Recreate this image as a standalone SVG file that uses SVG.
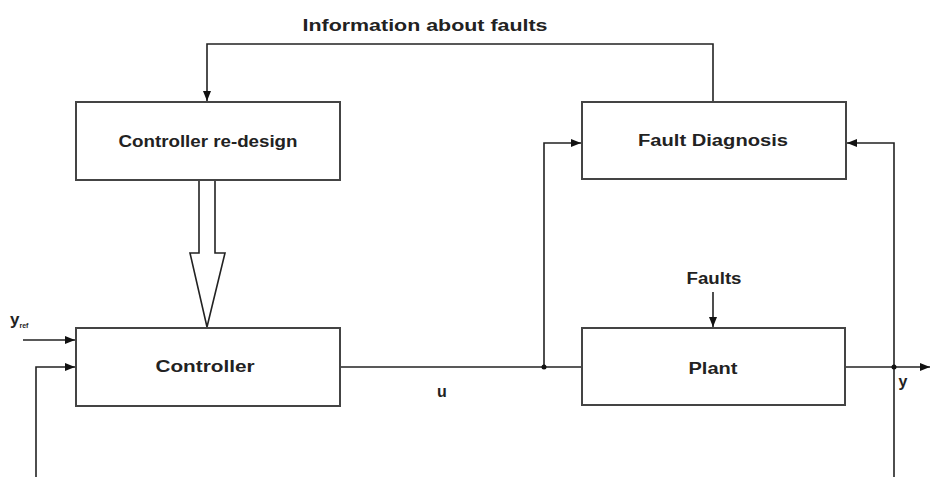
<svg xmlns="http://www.w3.org/2000/svg" width="931" height="477" viewBox="0 0 931 477">
<style>
.box{fill:#fff;stroke:#444;stroke-width:2}
.ln{fill:none;stroke:#222;stroke-width:1.6}
.t{font-family:"Liberation Sans",Arial,sans-serif;font-size:16px;fill:#222;font-weight:bold}
</style>
<defs>
<marker id="ah" viewBox="0 0 10 10" refX="10" refY="5" markerWidth="10" markerHeight="10" markerUnits="userSpaceOnUse" orient="auto">
<path d="M0,1 L10,5 L0,9 Z" fill="#111"/>
</marker>
</defs>
<rect width="931" height="477" fill="#fff"/>
<g id="connectors">
<polyline class="ln" points="713,102 713,44 207,44 207,101" marker-end="url(#ah)"/>
<line class="ln" x1="23" y1="340" x2="75" y2="340" marker-end="url(#ah)"/>
<polyline class="ln" points="36,477 36,367 75,367" marker-end="url(#ah)"/>
<line class="ln" x1="340" y1="367" x2="582" y2="367"/>
<polyline class="ln" points="544,367 544,143 581,143" marker-end="url(#ah)"/>
<line class="ln" x1="713" y1="292" x2="713" y2="327" marker-end="url(#ah)"/>
<line class="ln" x1="845" y1="367" x2="930" y2="367" marker-end="url(#ah)"/>
<polyline class="ln" points="894,477 894,143 847,143" marker-end="url(#ah)"/>
<circle cx="544" cy="367" r="2.5" fill="#111"/>
<circle cx="894" cy="367" r="2.5" fill="#111"/>
<path d="M199,180 L199,253 L190,253 L207,327 L225,253 L215,253 L215,180" fill="#fff" stroke="#222" stroke-width="1.6"/>
</g>
<g id="redesign">
<rect class="box" x="76" y="102" width="264" height="78"/>
<text class="t" x="208" y="147" text-anchor="middle" textLength="179" lengthAdjust="spacingAndGlyphs">Controller re-design</text>
</g>
<g id="fault-diagnosis">
<rect class="box" x="582" y="102" width="264" height="77"/>
<text class="t" x="713" y="146" text-anchor="middle" textLength="150" lengthAdjust="spacingAndGlyphs">Fault Diagnosis</text>
</g>
<g id="controller">
<rect class="box" x="76" y="328" width="264" height="78"/>
<text class="t" x="205" y="372" text-anchor="middle" textLength="99" lengthAdjust="spacingAndGlyphs">Controller</text>
</g>
<g id="plant">
<rect class="box" x="582" y="328" width="263" height="77"/>
<text class="t" x="713" y="374" text-anchor="middle" textLength="49" lengthAdjust="spacingAndGlyphs">Plant</text>
</g>
<g id="labels">
<text class="t" x="425" y="31" text-anchor="middle" textLength="245" lengthAdjust="spacingAndGlyphs">Information about faults</text>
<text class="t" x="714" y="284" text-anchor="middle" textLength="55" lengthAdjust="spacingAndGlyphs">Faults</text>
<text class="t" x="442" y="397" text-anchor="middle">u</text>
<text class="t" x="903" y="387" text-anchor="middle">y</text>
<text class="t" x="10" y="325" style="font-size:17px">y<tspan style="font-size:7px" dy="3">ref</tspan></text>
</g>
</svg>
